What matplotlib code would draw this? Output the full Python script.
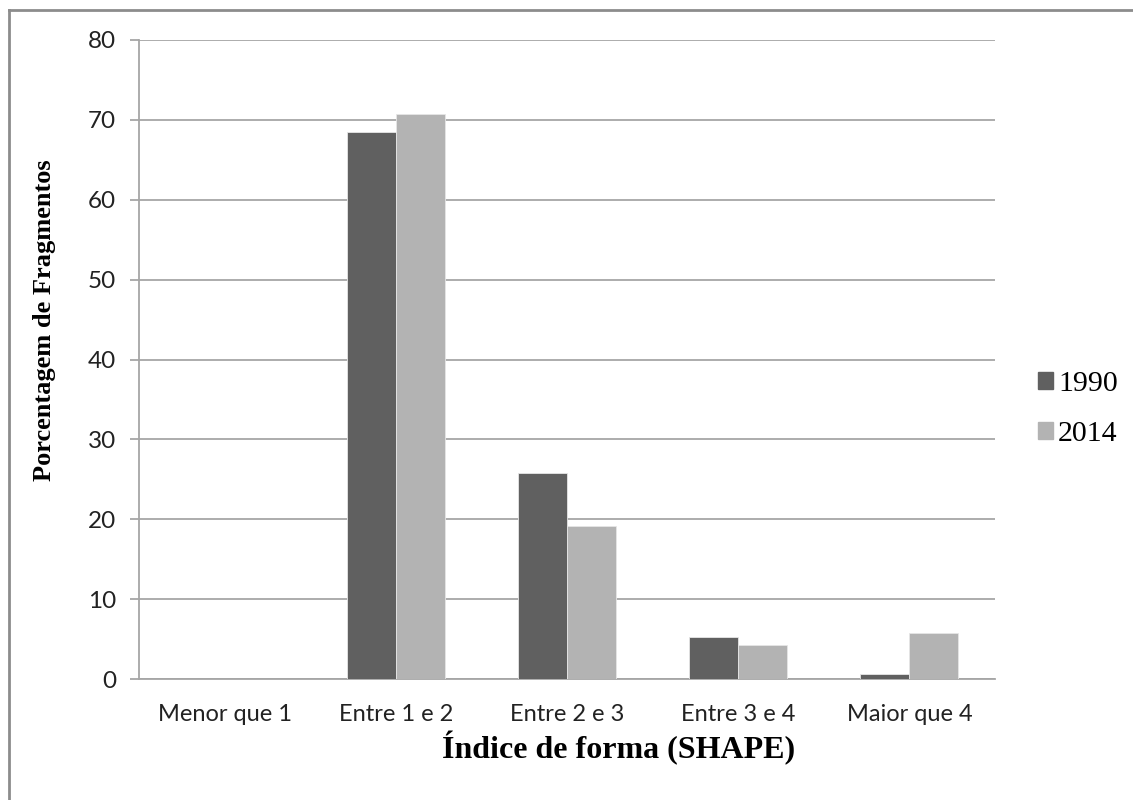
import matplotlib
matplotlib.use("Agg")
import matplotlib.pyplot as plt
from matplotlib.lines import Line2D
from matplotlib.patches import Rectangle
import numpy as np

categories = ["Menor que 1", "Entre 1 e 2", "Entre 2 e 3", "Entre 3 e 4", "Maior que 4"]
series_names = ["1990", "2014"]
values_1990 = [0.0, 68.5, 25.8, 5.2, 0.6]
values_2014 = [0.0, 70.7, 19.2, 4.3, 5.7]
y_ticks = [0, 10, 20, 30, 40, 50, 60, 70, 80]

colors = ["#606060", "#b3b3b3"]
grid_color = "#a6a6a6"
sans = ["Lato", "DejaVu Sans"]
serif = ["Liberation Serif", "DejaVu Serif"]

W, H = 1133, 800
fig = plt.figure(figsize=(W / 100, H / 100), dpi=100)
fig.patch.set_facecolor("white")

ax = fig.add_axes([139 / W, 1 - 679 / H, (995 - 139) / W, (679 - 40) / H])

x = np.arange(len(categories))
width = 1 / 3.5
ax.bar(x - width / 2, values_1990, width, color=colors[0], edgecolor="#e6e6e6",
       linewidth=0.6, zorder=3, label=series_names[0])
ax.bar(x + width / 2, values_2014, width, color=colors[1], edgecolor="#e6e6e6",
       linewidth=0.6, zorder=3, label=series_names[1])

ax.set_xlim(-0.5, len(categories) - 0.5)
ax.set_ylim(0, 80)
ax.set_yticks(y_ticks)
ax.set_xticks(x)
ax.set_xticklabels(categories, fontfamily=sans, fontsize=17, color="#222222")
for lbl in ax.get_yticklabels():
    lbl.set_fontfamily(sans)
    lbl.set_fontsize(17.5)
    lbl.set_color("#222222")

ax.yaxis.grid(True, color=grid_color, linewidth=1.3, zorder=0)
ax.set_axisbelow(True)
for side in ["top", "right"]:
    ax.spines[side].set_visible(False)
for side in ["left", "bottom"]:
    ax.spines[side].set_color(grid_color)
    ax.spines[side].set_linewidth(1.3)
ax.tick_params(axis="y", length=6.5, width=1.3, color=grid_color, pad=10)
ax.tick_params(axis="x", length=0, pad=18)

ax.set_xlabel("Índice de forma (SHAPE)", fontfamily=serif, fontweight="bold",
              fontsize=23)
ax.xaxis.set_label_coords((619 - 139) / 856, -(731 - 679) / 639)
ax.set_ylabel("Porcentagem de Fragmentos", fontfamily=serif, fontweight="bold",
              fontsize=19)
ax.yaxis.set_label_coords(-(139 - 56) / 856, (679 - 320) / 639)

handles = [Rectangle((0, 0), 1, 1, color=c) for c in colors]
leg = fig.legend(handles, series_names, loc="center left",
                 bbox_to_anchor=(1038 / W, 1 - 409 / H), frameon=False,
                 prop={"family": serif, "size": 21.5}, handlelength=0.5,
                 handleheight=0.5, handletextpad=0.17, labelspacing=0.8,
                 borderpad=0, borderaxespad=0)

# outer chart frame (top and left edges)
fig.add_artist(Line2D([9 / W, 9 / W], [0, 1 - 10 / H], transform=fig.transFigure,
                      color="#8c8c8c", linewidth=2))
fig.add_artist(Line2D([9 / W, 1], [1 - 10 / H, 1 - 10 / H], transform=fig.transFigure,
                      color="#8c8c8c", linewidth=2))

fig.savefig("out.png", dpi=100, facecolor="white")
